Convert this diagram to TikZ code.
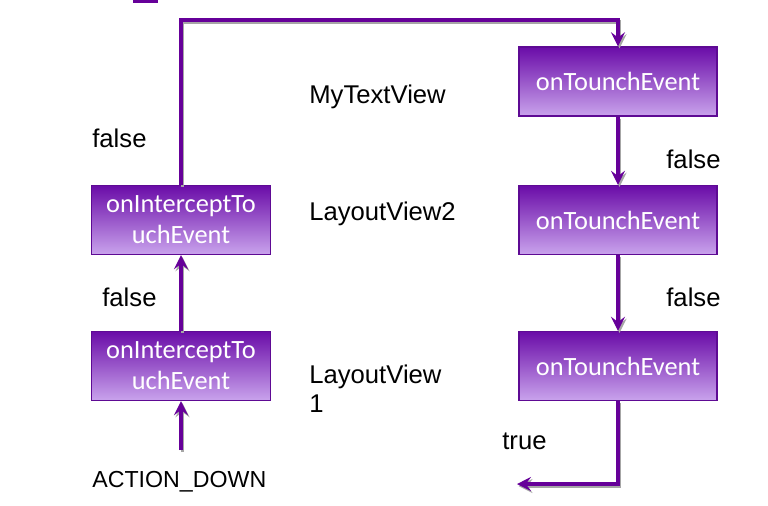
\documentclass[tikz,border=0pt]{standalone}
\usepackage{fontspec}
\setmainfont{Liberation Sans}
\newfontfamily\boxfont{Carlito}
\usetikzlibrary{arrows.meta,positioning}
\definecolor{flowline}{HTML}{660099}
\definecolor{boxtop}{HTML}{6A0CA8}
\definecolor{boxbottom}{HTML}{C9A3EC}
\definecolor{boxedge}{HTML}{5E0A94}

\begin{document}
\begin{tikzpicture}[
    x=0.02cm, y=-0.02cm,
    handler/.style={
        rectangle, draw=boxedge, line width=0.8pt,
        top color=boxtop, bottom color=boxbottom,
        minimum height=1.38cm, inner sep=2pt,
        align=center, text=white, font=\boxfont\fontsize{15}{17.5}\selectfont
    },
    lefthandler/.style={handler, minimum width=3.58cm},
    righthandler/.style={handler, minimum width=3.96cm},
    caption/.style={anchor=west, inner sep=0pt, align=left,
        font=\fontsize{14.6}{16.5}\selectfont},
    flow/.style={-{Stealth[length=8pt,width=8pt,inset=3pt]}, flowline, line width=1.9pt,
        preaction={draw=gray!70, line width=1.9pt,
            transform canvas={shift={(1.5,2)}}}}
]
\useasboundingbox (0,0) rectangle (768,505);

% leftover bar at the top
\fill[flowline] (133,0) rectangle (158,2.5);

% Intercept side
\node[lefthandler] (lv1) at (181,366) {onInterceptTo\\uchEvent};
\node[lefthandler] (lv2) at (181,220) {onInterceptTo\\uchEvent};

% Touch side
\node[righthandler] (t1) at (618,81.5) {onTounchEvent};
\node[righthandler] (t2) at (618,220) {onTounchEvent};
\node[righthandler] (t3) at (618,366) {onTounchEvent};

% View names
\node[caption] (nmtext) at (309,97) {MyTextView};
\node[caption] (nml2) at (309,214) {LayoutView2};
\node[caption] (nml1) at (309,389) {LayoutView\\1};

% Return values
\node[caption] (rf1) at (92,138) {false};
\node[caption] (rf2) at (102,297) {false};
\node[caption] (rf3) at (666,159) {false};
\node[caption] (rf4) at (666,297) {false};
\node[caption] (rtrue) at (502,441) {true};
\node[caption, font=\fontsize{13.2}{16}\selectfont] (evdown) at (92,482) {ACTION\_DOWN};

% Helper points
\coordinate (downtop) at (181,450);
\coordinate (bendL) at (181,20);
\coordinate (bendR) at (618,20);
\coordinate (bendB) at (618,484);
\coordinate (outend) at (517,484);

% Connections
\draw[flow] (downtop) -- (lv1);
\draw[flow] (lv1) -- (lv2);
\draw[flow] (lv2) -- (bendL) -- (bendR) -- (t1);
\draw[flow] (t1) -- (t2);
\draw[flow] (t2) -- (t3);
\draw[flow] (t3) -- (bendB) -- (outend);

\end{tikzpicture}
\end{document}
